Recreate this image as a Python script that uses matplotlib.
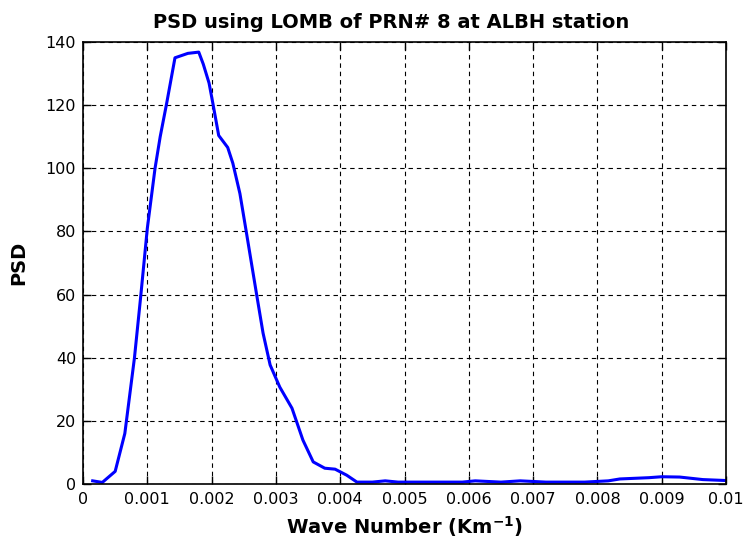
import numpy as np
import matplotlib
matplotlib.use('Agg')
from matplotlib import pyplot as plt
from matplotlib.ticker import FuncFormatter

plt.rcParams['font.family'] = ['DejaVu Sans']

# Lomb periodogram of PRN 8, ALBH
wave_num = [0.00015, 0.0003, 0.0005, 0.00065, 0.0008, 0.0009, 0.001, 0.00112, 0.0012,
            0.0013, 0.00143, 0.00163, 0.0018, 0.00187, 0.00196, 0.00202, 0.00211,
            0.00225, 0.00233, 0.00244, 0.00253, 0.0027, 0.0028, 0.00291, 0.00306,
            0.00325, 0.00342, 0.00358, 0.00376, 0.00392, 0.0041, 0.00426, 0.0045,
            0.0047, 0.0049, 0.0055, 0.0059, 0.0061, 0.0065, 0.0068, 0.0072, 0.0078,
            0.00817, 0.00835, 0.0088, 0.009, 0.00928, 0.00964, 0.01]
psd = [1.0, 0.5, 4.0, 16.0, 40.0, 60.0, 81.0, 100.0, 110.0,
       120.5, 135.0, 136.4, 136.8, 133.0, 127.0, 120.5, 110.4,
       106.6, 101.6, 92.0, 81.0, 60.0, 47.8, 37.7, 30.7,
       24.0, 13.9, 7.0, 5.0, 4.7, 2.8, 0.6, 0.6,
       1.0, 0.6, 0.6, 0.6, 1.0, 0.6, 1.0, 0.6, 0.6,
       1.0, 1.6, 2.0, 2.3, 2.2, 1.4, 1.1]

x_ticks = np.arange(0, 0.0101, 0.001)
y_ticks = np.arange(0, 141, 20)

fig = plt.figure(figsize=(7.44, 5.4), dpi=100)
ax = fig.add_axes([0.1116, 0.1037, 0.8642, 0.8185])

ax.plot(wave_num, psd, color='#0000ff', lw=2.2)

ax.set_xlim(0, 0.01)
ax.set_ylim(0, 140)
ax.set_xticks(x_ticks)
ax.set_yticks(y_ticks)
ax.xaxis.set_major_formatter(FuncFormatter(lambda v, p: '%g' % round(v, 4)))
ax.tick_params(direction='in', labelsize=11.5, length=6, width=1, top=True, right=True,
               colors='black')
ax.tick_params(axis='x', pad=6)
ax.tick_params(axis='y', pad=5)
ax.grid(True, color='black', linestyle=(0, (4, 3.5)), linewidth=0.8)
for s in ax.spines.values():
    s.set_linewidth(1.2)

fig.text(391 / 744, 1 - 28 / 540, 'PSD using LOMB of PRN# 8 at ALBH station',
         ha='center', va='baseline', fontsize=14, fontweight='bold')
ax.set_xlabel('Wave Number (Km$^{\\mathbf{-1}}$)', fontsize=14, fontweight='bold')
ax.set_ylabel('PSD', fontsize=14, fontweight='bold')
ax.xaxis.set_label_coords(0.5, -0.068)
ax.yaxis.set_label_coords(-0.0855, 0.5)

fig.savefig('out.png', dpi=100)
